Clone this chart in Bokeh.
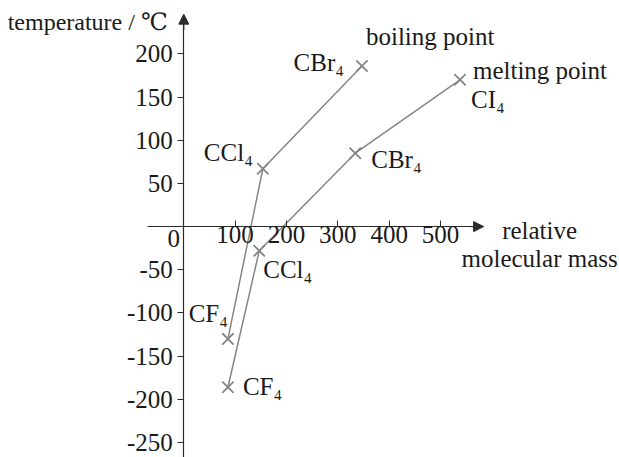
from bokeh.plotting import figure
from bokeh.models import LinearAxis, FixedTicker, Arrow, NormalHead
from bokeh.core.properties import value
from bokeh.embed import file_html
from bokeh.resources import INLINE

# ---- data ----
compounds_bp = ["CF\u2084", "CCl\u2084", "CBr\u2084"]
mass_bp = [86, 154, 347]
temp_bp = [-130, 67, 186]

compounds_mp = ["CF\u2084", "CCl\u2084", "CBr\u2084", "CI\u2084"]
mass_mp = [86, 147, 334, 538]
temp_mp = [-186, -28, 85, 170]

x_ticks = [100, 200, 300, 400, 500]
y_ticks = [-250, -200, -150, -100, -50, 50, 100, 150, 200]
y_tick_labels = {t: str(t) for t in y_ticks}   # plain hyphen minus as in the picture

FONT = "Liberation Serif"
FONT_TITLE = "'Liberation Serif', 'DejaVu Serif', serif"
FS = "25px"
TXT = "#1a1a1a"
LINE = "#858585"
AX = "#2a2a2a"

p = figure(width=619, height=457, output_backend="svg", toolbar_location=None,
           x_range=(-357.0, 848.7), y_range=(-267.3, 261.8),
           x_axis_type=None, y_axis_type=None, min_border=0,
           outline_line_color=None, background_fill_color="white",
           border_fill_color="white")
p.xgrid.visible = False
p.ygrid.visible = False

yax = LinearAxis(fixed_location=0, bounds=(-275, 240), ticker=FixedTicker(ticks=y_ticks),
                 major_label_overrides=y_tick_labels,
                 major_tick_out=6, major_tick_in=0, minor_tick_out=0, minor_tick_in=0,
                 axis_line_color=AX, major_tick_line_color=AX, axis_line_width=1.2,
                 major_label_standoff=5, major_label_text_font=FONT,
                 major_label_text_font_size=FS, major_label_text_color=TXT)
p.add_layout(yax, "left")

xax = LinearAxis(fixed_location=0, bounds=(-71, 575), ticker=FixedTicker(ticks=x_ticks),
                 major_tick_out=0, major_tick_in=6, minor_tick_out=0, minor_tick_in=0,
                 axis_line_color=AX, major_tick_line_color=AX, axis_line_width=1.2,
                 major_label_standoff=-1, major_label_text_font=FONT,
                 major_label_text_font_size=FS, major_label_text_color=TXT)
p.add_layout(xax, "below")

# axis arrowheads
p.add_layout(Arrow(end=NormalHead(size=10, fill_color=AX, line_color=AX), line_color=AX,
                   line_width=1.2, x_start=0, y_start=228, x_end=0, y_end=246))
p.add_layout(Arrow(end=NormalHead(size=10, fill_color=AX, line_color=AX), line_color=AX,
                   line_width=1.2, x_start=560, y_start=0, x_end=584, y_end=0))

# series
p.line(mass_bp, temp_bp, line_color=LINE, line_width=1.5)
p.scatter(mass_bp, temp_bp, marker="x", size=16, line_color=LINE, line_width=1.8)
p.line(mass_mp, temp_mp, line_color=LINE, line_width=1.5)
p.scatter(mass_mp, temp_mp, marker="x", size=16, line_color=LINE, line_width=1.8)

def label(x, y, text, dx, dy, align="left", font=FONT, size=FS):
    p.text(x=[x], y=[y], text=[text], x_offset=dx, y_offset=dy,
           text_align=align, text_baseline="middle", text_font=value(font),
           text_font_size=size, text_color=TXT)

# boiling point labels
label(mass_bp[0], temp_bp[0], compounds_bp[0], 0, -25, "right")
label(mass_bp[1], temp_bp[1], compounds_bp[1], -10, -16, "right")
label(mass_bp[2], temp_bp[2], compounds_bp[2], -18, -3, "right")
label(mass_bp[2], temp_bp[2], "boiling point", 4, -29)

# melting point labels
label(mass_mp[0], temp_mp[0], compounds_mp[0], 15, -1)
label(mass_mp[1], temp_mp[1], compounds_mp[1], 4, 19)
label(mass_mp[2], temp_mp[2], compounds_mp[2], 16, 6)
label(mass_mp[3], temp_mp[3], compounds_mp[3], 11, 20)
label(mass_mp[3], temp_mp[3], "melting point", 13, -9)

# axis titles and origin
label(0, 0, "0", -10, 12, "center")
label(0, 246, "temperature / \u2103", -16, 8, "right", FONT_TITLE, "24px")
label(584, 0, "relative", 56, 4, "center")
label(584, 0, "molecular mass", 56, 32, "center")

open("out.html", "w").write(file_html(p, INLINE))
